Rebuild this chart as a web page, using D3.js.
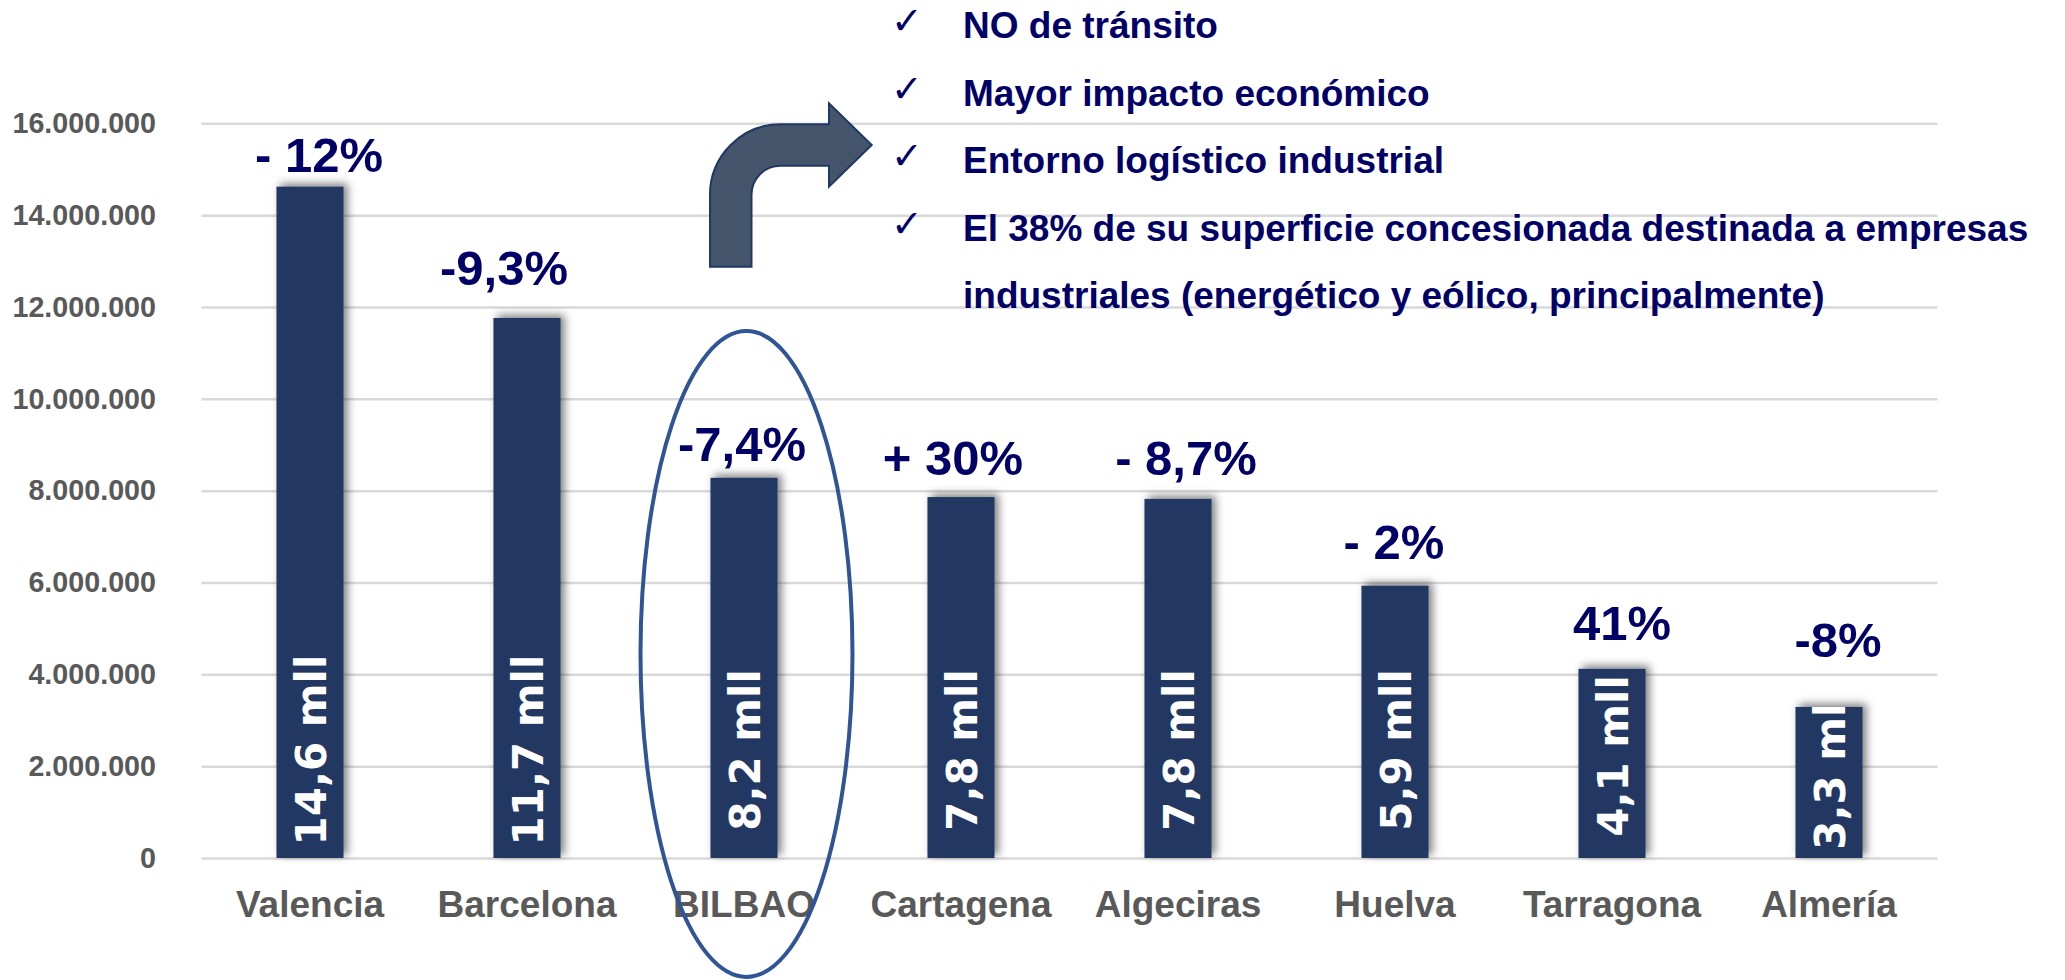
<!DOCTYPE html>
<html>
<head>
<meta charset="utf-8">
<script src="https://cdn.jsdelivr.net/npm/d3@7"></script>
<style>
  body { margin: 0; background: #fff; }
  svg { display: block; font-family: "Liberation Sans", Arial, sans-serif; }
</style>
</head>
<body>
<div id="chart"></div>
<script>
// data
const categories = ["Valencia", "Barcelona", "BILBAO", "Cartagena", "Algeciras", "Huelva", "Tarragona", "Almería"];
const values = [14620000, 11760000, 8280000, 7860000, 7820000, 5930000, 4120000, 3290000];
const valueLabels = ["14,6 mll", "11,7 mll", "8,2 mll", "7,8 mll", "7,8 mll", "5,9 mll", "4,1 mll", "3,3 mll"];
const changeLabels = ["- 12%", "-9,3%", "-7,4%", "+ 30%", "- 8,7%", "- 2%", "41%", "-8%"];
const yTicks = [0, 2000000, 4000000, 6000000, 8000000, 10000000, 12000000, 14000000, 16000000];
const notes = [
  "NO de tránsito",
  "Mayor impacto económico",
  "Entorno logístico industrial",
  "El 38% de su superficie concesionada destinada a empresas",
  "industriales (energético y eólico, principalmente)"
];
const noteChecked = [true, true, true, true, false];

// small hand nudges for the labels, as placed in the original
const pctDx = [9, -23, -2, -8, 8, -1, 10, 9];
const pctGap = [15, 33, 17, 22, 24, 27, 29, 50];
const innerDy = [0, 0, 0, 0, 0, 0, 6, 19];

const width = 2065, height = 980;
const navy = "#000066", barColor = "#213763", grey = "#595959";

const svg = d3.select("#chart").append("svg")
  .attr("width", width)
  .attr("height", height);

const defs = svg.append("defs");
const shadow = defs.append("filter")
  .attr("id", "shadow")
  .attr("x", "-30%").attr("y", "-10%")
  .attr("width", "160%").attr("height", "120%");
shadow.append("feDropShadow")
  .attr("dx", 4).attr("dy", -3)
  .attr("stdDeviation", 4)
  .attr("flood-color", "#000")
  .attr("flood-opacity", 0.5);

const x = d3.scaleBand()
  .domain(categories)
  .range([201.5, 1937.5])
  .paddingInner(0.691)
  .paddingOuter(0.3455);

const y = d3.scaleLinear()
  .domain([0, 16000000])
  .range([858, 123.3]);

const fmt = d3.formatLocale({ decimal: ",", thousands: ".", grouping: [3], currency: ["", ""] }).format(",d");

// gridlines
svg.append("g")
  .attr("class", "grid")
  .attr("transform", "translate(201.5,0)")
  .call(d3.axisLeft(y).tickValues(yTicks).tickSize(-1736).tickFormat(""))
  .call(g => g.select(".domain").remove())
  .call(g => g.selectAll("line").attr("stroke", "#d9d9d9").attr("stroke-width", 2.5));

// y labels
svg.append("g")
  .attr("transform", "translate(156,0)")
  .call(d3.axisLeft(y).tickValues(yTicks).tickSize(0).tickPadding(0).tickFormat(fmt))
  .call(g => g.select(".domain").remove())
  .call(g => g.selectAll("text")
    .attr("fill", grey)
    .attr("font-size", 28.7)
    .attr("font-weight", "bold")
    .attr("font-family", "Liberation Sans, Arial, sans-serif"));

// x labels
svg.append("g")
  .attr("transform", "translate(0,858)")
  .call(d3.axisBottom(x).tickSize(0).tickPadding(33))
  .call(g => g.select(".domain").remove())
  .call(g => g.selectAll("text")
    .attr("fill", grey)
    .attr("font-size", 37)
    .attr("font-weight", "bold")
    .attr("font-family", "Liberation Sans, Arial, sans-serif"));

// bars
const data = categories.map((c, i) => ({ c, v: values[i], lab: valueLabels[i], pct: changeLabels[i], i }));

defs.selectAll("clipPath")
  .data(data)
  .join("clipPath")
  .attr("id", d => "clip" + d.i)
  .append("rect")
  .attr("x", d => x(d.c))
  .attr("y", d => y(d.v))
  .attr("width", x.bandwidth())
  .attr("height", d => y(0) - y(d.v));

svg.append("g")
  .selectAll("rect")
  .data(data)
  .join("rect")
  .attr("x", d => x(d.c))
  .attr("y", d => y(d.v))
  .attr("width", x.bandwidth())
  .attr("height", d => y(0) - y(d.v))
  .attr("fill", barColor)
  .attr("filter", "url(#shadow)");

// value inside bars
svg.append("g")
  .selectAll("g")
  .data(data)
  .join("g")
  .attr("clip-path", d => "url(#clip" + d.i + ")")
  .append("text")
  .attr("transform", d => `translate(${x(d.c) + x.bandwidth() / 2 + 16},${y(0) - 108 + innerDy[d.i]}) rotate(-90)`)
  .attr("text-anchor", "middle")
  .attr("fill", "#fff")
  .attr("font-size", 42)
  .attr("font-weight", "bold")
  .attr("font-family", "DejaVu Sans, Verdana, sans-serif")
  .text(d => d.lab);

// change labels above bars
svg.append("g")
  .selectAll("text")
  .data(data)
  .join("text")
  .attr("x", d => x(d.c) + x.bandwidth() / 2 + pctDx[d.i])
  .attr("y", d => y(d.v) - pctGap[d.i])
  .attr("text-anchor", "middle")
  .attr("fill", navy)
  .attr("font-size", 49)
  .attr("font-weight", "bold")
  .text(d => d.pct);

// ellipse around BILBAO
svg.append("ellipse")
  .attr("cx", x("BILBAO") + x.bandwidth() / 2 + 2.5)
  .attr("cy", y(0) - 204)
  .attr("rx", 106)
  .attr("ry", 323)
  .attr("fill", "none")
  .attr("stroke", "#2F5597")
  .attr("stroke-width", 4);

// bent arrow
const ax = 710, ay = 124.3, t = 41.5, r = 29;
const p = d3.path();
p.moveTo(ax, 266.7);
p.lineTo(ax, ay + t + r);
p.arcTo(ax, ay, ax + t + r, ay, t + r);
p.lineTo(829, ay);
p.lineTo(829, 103.3);
p.lineTo(871.7, ay + t / 2);
p.lineTo(829, 186.7);
p.lineTo(829, ay + t);
p.lineTo(ax + t + r, ay + t);
p.arcTo(ax + t, ay + t, ax + t, ay + t + r, r);
p.lineTo(ax + t, 266.7);
p.closePath();
svg.append("path")
  .attr("d", p.toString())
  .attr("fill", "#44546A")
  .attr("stroke", "#1F3864")
  .attr("stroke-width", 2);

// notes
const noteG = svg.append("g");
notes.forEach((n, i) => {
  const by = 38 + i * 67.5;
  if (noteChecked[i]) {
    noteG.append("text")
      .attr("x", 891)
      .attr("y", by - 4)
      .attr("fill", navy)
      .attr("font-size", 38)
      .attr("font-family", "DejaVu Sans, sans-serif")
      .text("✓");
  }
  noteG.append("text")
    .attr("x", 963)
    .attr("y", by)
    .attr("fill", navy)
    .attr("font-size", 37)
    .attr("font-weight", "bold")
    .text(n);
});
</script>
</body>
</html>
